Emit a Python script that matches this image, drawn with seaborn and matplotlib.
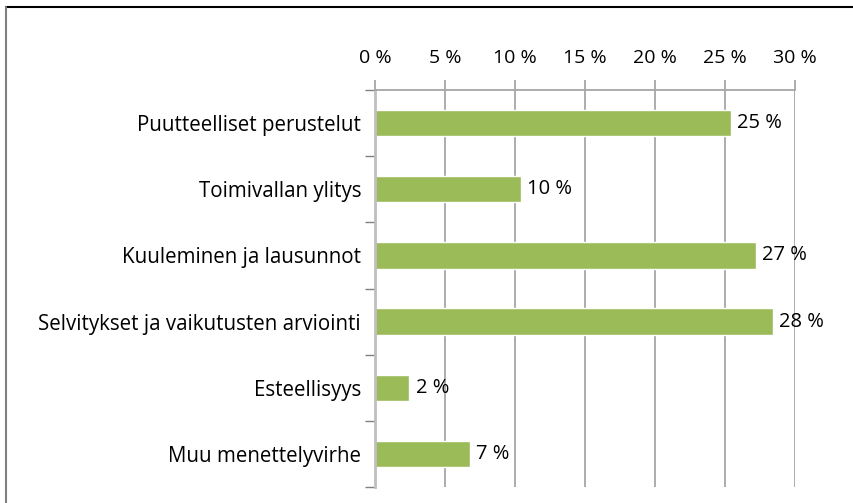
import matplotlib
matplotlib.use("Agg")
import matplotlib.pyplot as plt
import seaborn as sns
import pandas as pd
from matplotlib.lines import Line2D

categories = ["Puutteelliset perustelut", "Toimivallan ylitys", "Kuuleminen ja lausunnot",
              "Selvitykset ja vaikutusten arviointi", "Esteellisyys", "Muu menettelyvirhe"]
values = [25.4, 10.4, 27.2, 28.4, 2.45, 6.8]
value_labels = ["25 %", "10 %", "27 %", "28 %", "2 %", "7 %"]
x_ticks = [0, 5, 10, 15, 20, 25, 30]
x_tick_labels = ["0 %", "5 %", "10 %", "15 %", "20 %", "25 %", "30 %"]

sns.set_style("white")
plt.rcParams['font.family'] = ['Open Sans', 'DejaVu Sans']

df = pd.DataFrame({"cat": categories, "val": values})

fig = plt.figure(figsize=(8.54, 5.03), dpi=100)
ax = fig.add_axes([375/854, 1-487/503, (795-375)/854, (487-90)/503])

sns.barplot(data=df, y="cat", x="val", orient="h", color="#9BBB59", saturation=1,
            width=0.4, ax=ax)

ax.set_xlim(0, 30)
ax.set_ylim(len(categories)-0.5, -0.5)
ax.xaxis.tick_top()
ax.set_xticks(x_ticks)
ax.set_xticklabels(x_tick_labels, fontsize=14, color="black")
ax.tick_params(axis="x", length=7, width=1.3, color="#A6A6A6", pad=9.5, top=True, bottom=False)
ax.grid(axis="x", color="#A6A6A6", linewidth=1.3)
ax.set_axisbelow(True)

# category axis: ticks at boundaries
ax.set_yticks([i - 0.5 for i in range(len(categories)+1)], minor=True)
ax.set_yticks(range(len(categories)))
ax.set_yticklabels(categories, fontsize=14.8, color="black")
ax.tick_params(axis="y", which="major", length=0, pad=10)
ax.tick_params(axis="y", which="minor", length=7, width=1.0, color="#808080", left=True)
ax.set_xlabel("")
ax.set_ylabel("")

for s in ["right", "bottom"]:
    ax.spines[s].set_visible(False)
ax.spines["top"].set_visible(True)
ax.spines["top"].set_color("#A6A6A6")
ax.spines["top"].set_linewidth(1.3)
ax.spines["left"].set_color("#BFBFBF")
ax.spines["left"].set_linewidth(2)

for i, (v, lab) in enumerate(zip(values, value_labels)):
    ax.text(v + 0.45, i, lab, va="center", ha="left", fontsize=14.5, color="black")

# outer frame (top and left edges)
fig.add_artist(Line2D([6/854, 1], [1-7/503, 1-7/503], color="black", linewidth=1.5, transform=fig.transFigure))
fig.add_artist(Line2D([6/854, 6/854], [0, 1-7/503], color="#808080", linewidth=1.5, transform=fig.transFigure))

fig.savefig("out.png", dpi=100)
